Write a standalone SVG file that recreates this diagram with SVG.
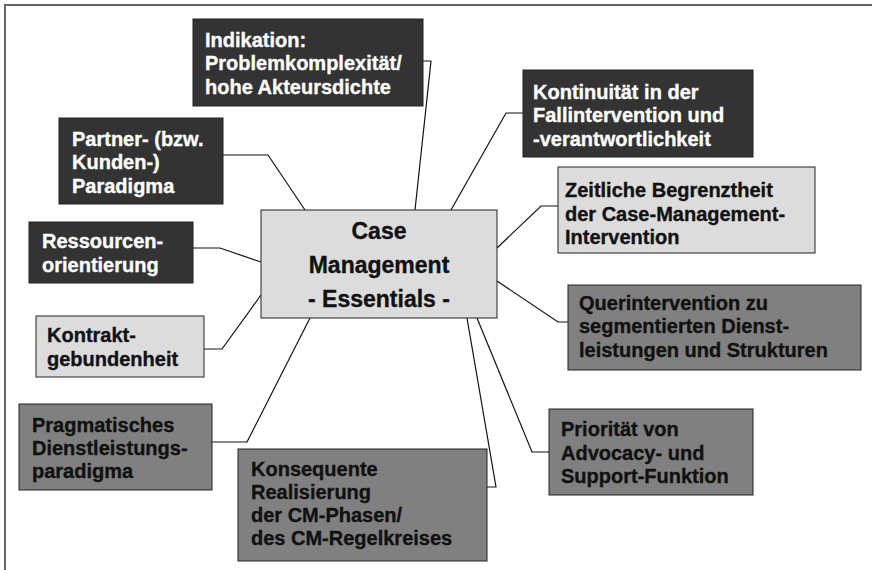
<svg xmlns="http://www.w3.org/2000/svg" width="872" height="570" viewBox="0 0 872 570">
<style>
.box{stroke:#222;stroke-width:1}
.dark{fill:#333333}
.mid{fill:#808080}
.light{fill:#dcdcdc}
text{font-family:"Liberation Sans",Arial,sans-serif;font-weight:bold;font-size:20px;stroke-width:0.35}
.w{fill:#ffffff;stroke:#ffffff}
.b{fill:#111111;stroke:#111111}
.c{font-size:23px;text-anchor:middle;fill:#111111;stroke:#111111}
.con{fill:none;stroke:#111;stroke-width:1.2}
</style>
<rect width="872" height="570" fill="#ffffff"/>
<path d="M5 572 V5 H874" fill="none" stroke="#666" stroke-width="2"/>
<g id="connectors">
<polyline class="con" points="423,61 431,61 415,210"/>
<polyline class="con" points="523,113 506,113 451,210"/>
<polyline class="con" points="558,206 541,206 497,248"/>
<polyline class="con" points="568,322 558,322 497,281"/>
<polyline class="con" points="549,452 532,452 477,318"/>
<polyline class="con" points="487,487 496,487 467,318"/>
<polyline class="con" points="212,442 247,442 310,318"/>
<polyline class="con" points="204,349 222,349 261,295"/>
<polyline class="con" points="193,248 220,248 261,262"/>
<polyline class="con" points="223,155 268,155 305,210"/>
</g>
<g id="center">
<rect class="box light" x="261" y="210" width="236" height="108"/>
<text class="c" x="379" y="239">Case</text>
<text class="c" x="379" y="273">Management</text>
<text class="c" x="379" y="307">- Essentials -</text>
</g>
<g id="indikation">
<rect class="box dark" x="193" y="19" width="230" height="87"/>
<text class="w" x="205" y="47">Indikation:</text>
<text class="w" x="205" y="70">Problemkomplexität/</text>
<text class="w" x="205" y="94">hohe Akteursdichte</text>
</g>
<g id="kontinuitaet">
<rect class="box dark" x="523" y="70" width="230" height="87"/>
<text class="w" x="533" y="99">Kontinuität in der</text>
<text class="w" x="533" y="122">Fallintervention und</text>
<text class="w" x="533" y="146">-verantwortlichkeit</text>
</g>
<g id="zeitliche">
<rect class="box light" x="558" y="167" width="257" height="86"/>
<text class="b" x="565" y="197">Zeitliche Begrenztheit</text>
<text class="b" x="565" y="221">der Case-Management-</text>
<text class="b" x="565" y="244">Intervention</text>
</g>
<g id="querintervention">
<rect class="box mid" x="568" y="285" width="293" height="85"/>
<text class="b" x="579" y="310">Querintervention zu</text>
<text class="b" x="579" y="333">segmentierten Dienst-</text>
<text class="b" x="579" y="357">leistungen und Strukturen</text>
</g>
<g id="prioritaet">
<rect class="box mid" x="549" y="409" width="204" height="86"/>
<text class="b" x="561" y="436">Priorität von</text>
<text class="b" x="561" y="460">Advocacy- und</text>
<text class="b" x="561" y="483">Support-Funktion</text>
</g>
<g id="konsequente">
<rect class="box mid" x="238" y="449" width="249" height="112"/>
<text class="b" x="251" y="476">Konsequente</text>
<text class="b" x="251" y="499">Realisierung</text>
<text class="b" x="251" y="522">der CM-Phasen/</text>
<text class="b" x="251" y="545">des CM-Regelkreises</text>
</g>
<g id="pragmatisches">
<rect class="box mid" x="19" y="404" width="193" height="86"/>
<text class="b" x="32" y="432">Pragmatisches</text>
<text class="b" x="32" y="455">Dienstleistungs-</text>
<text class="b" x="32" y="478">paradigma</text>
</g>
<g id="kontrakt">
<rect class="box light" x="36" y="316" width="168" height="61"/>
<text class="b" x="47" y="342">Kontrakt-</text>
<text class="b" x="47" y="366">gebundenheit</text>
</g>
<g id="ressourcen">
<rect class="box dark" x="29" y="222" width="164" height="61"/>
<text class="w" x="42" y="248">Ressourcen-</text>
<text class="w" x="42" y="272">orientierung</text>
</g>
<g id="partner">
<rect class="box dark" x="59" y="118" width="164" height="86"/>
<text class="w" x="72" y="146">Partner- (bzw.</text>
<text class="w" x="72" y="169">Kunden-)</text>
<text class="w" x="72" y="193">Paradigma</text>
</g>
</svg>
